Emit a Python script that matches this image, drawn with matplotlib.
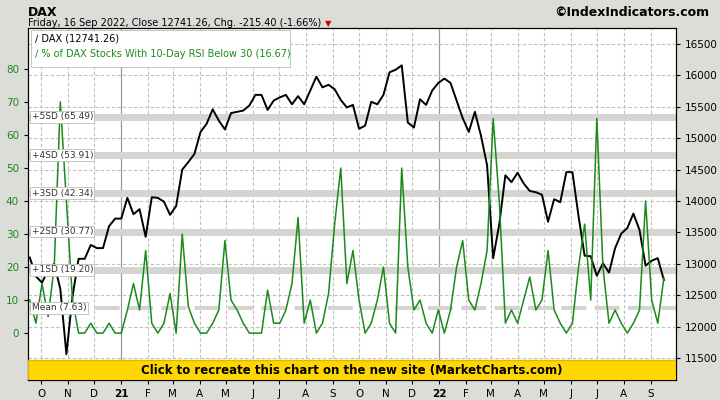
import numpy as np
import pandas as pd
import matplotlib.pyplot as plt
from matplotlib.patches import Rectangle

# weekly closes, Fridays from 2020-09-18 to 2022-09-16
dax = [13100, 12800, 12700, 12900, 13000, 12600, 11560, 12480, 13080, 13080, 13300, 13250, 13250, 13600, 13720,
       13720, 14050, 13790, 13870, 13430, 14060, 14050, 13990, 13780, 13920, 14500, 14620, 14750, 15100, 15230,
       15460, 15280, 15140, 15400, 15420, 15440, 15520, 15690, 15690, 15450, 15600, 15650, 15690, 15540, 15670,
       15540, 15760, 15980, 15810, 15850, 15780, 15610, 15490, 15530, 15150, 15200, 15580, 15540, 15690, 16050,
       16090, 16160, 15250, 15170, 15620, 15530, 15760, 15880,
       15950, 15880, 15600, 15320, 15100, 15420, 15040, 14570, 13090, 13630, 14410, 14300, 14450, 14280, 14160,
       14140, 14100, 13670, 14030, 13980, 14460, 14460, 13760, 13130, 13120, 12810, 13010, 12860, 13250, 13480,
       13570, 13800, 13540, 12970, 13050, 13090, 12741.26]
rsi_pct = [10, 3, 15, 5, 20, 70, 40, 10, 0, 0, 3, 0, 0, 3, 0,
           0, 7, 15, 7, 25, 3, 0, 3, 12, 0, 30, 8, 3, 0, 0, 3, 7, 28, 10, 7, 3, 0, 0, 0, 13, 3, 3, 7, 15, 35,
           3, 10, 0, 3, 12, 33, 50, 15, 25, 10, 0, 3, 10, 20, 3, 0, 50, 20, 7, 10, 3, 0, 7,
           0, 7, 20, 28, 10, 7, 15, 25, 65, 40, 3, 7, 3, 10, 17, 7, 10, 25, 7, 3, 0, 3, 20, 33, 10, 65, 20,
           3, 7, 3, 0, 3, 7, 40, 10, 3, 16.67]
dates = pd.date_range("2020-09-18", "2022-09-16", freq="W-FRI")

sd_levels = [65.49, 53.91, 42.34, 30.77, 19.20]
sd_labels = ["+5SD (65.49)", "+4SD (53.91)", "+3SD (42.34)", "+2SD (30.77)", "+1SD (19.20)"]
mean_level = 7.63

month_ticks = pd.date_range("2020-10-01", "2022-09-01", freq="MS")
month_labels = ["21" if d.month == 1 and d.year == 2021 else "22" if d.month == 1 else d.strftime("%b")[0]
                for d in month_ticks]

GREEN = "#1a8a1a"

fig = plt.figure(figsize=(7.2, 4), dpi=100, facecolor="#dcdcd8")
ax2 = fig.add_axes([0.039, 0.05, 0.9, 0.88])
ax2.set_facecolor("white")
ax = ax2.twinx()
ax.yaxis.tick_left()
ax2.yaxis.tick_right()

ax.set_xlim(pd.Timestamp("2020-09-16"), pd.Timestamp("2022-09-30"))
ax.set_ylim(-14.2, 92.4)
ax2.set_ylim(11150, 16755)

# grid
for d in month_ticks:
    if d.month == 1:
        ax2.axvline(d, color="#999999", lw=0.9, zorder=0)
    else:
        ax2.axvline(d, color="#c0c0c0", lw=0.8, ls=(0, (3, 2)), zorder=0)
for v in range(11500, 16501, 500):
    ax2.axhline(v, color="#c0c0c0", lw=0.8, ls=(0, (3, 2)), zorder=0)

# SD bands (drawn on the DAX axes so they sit under both lines)
def to_dax(v):
    return 11150 + (v + 14.2) / 106.6 * (16755 - 11150)

for lvl, lab in zip(sd_levels, sd_labels):
    ax2.axhline(to_dax(lvl), color="#d4d4d0", lw=5, zorder=1)
    ax.text(pd.Timestamp("2020-09-20"), lvl, lab, fontsize=6.5, va="center", color="#333333", zorder=6,
            bbox=dict(boxstyle="square,pad=0.15", fc="white", ec="#bbbbbb", lw=0.6))
ax2.axhline(to_dax(mean_level), color="#d4d4d0", lw=3, ls=(0, (6, 2)), zorder=1)
ax.text(pd.Timestamp("2020-09-20"), mean_level, "Mean (7.63)", fontsize=6.5, va="center", color="#333333",
        zorder=6, bbox=dict(boxstyle="square,pad=0.15", fc="white", ec="#bbbbbb", lw=0.6))

ax.plot(dates, rsi_pct, color=GREEN, lw=1.1, zorder=3)
ax2.plot(dates, dax, color="black", lw=1.4, zorder=4)

ax.set_yticks(range(0, 81, 10))
ax.tick_params(axis="y", labelsize=7.5, labelcolor=GREEN, length=3)
ax2.set_yticks(range(11500, 16501, 500))
ax2.tick_params(axis="y", labelsize=7.5, length=3)
ax.set_xticks(month_ticks)
ax2.set_xticks(month_ticks)
ax2.set_xticklabels(month_labels, fontsize=7.5)
for t, lab in zip(ax2.get_xticklabels(), month_labels):
    if lab in ("21", "22"):
        t.set_fontweight("bold")
ax2.tick_params(axis="x", length=3)

# banner
ax.add_patch(Rectangle((0, 0), 1, 0.057, transform=ax.transAxes, fc="#ffd700", ec="#e0b800", zorder=7))
ax.text(0.5, 0.028, "Click to recreate this chart on the new site (MarketCharts.com)", transform=ax.transAxes,
        ha="center", va="center", fontsize=8.5, fontweight="bold", zorder=8)

# legend box
ax.add_patch(Rectangle((0.004, 0.89), 0.4, 0.105, transform=ax.transAxes, fc="white", ec="#bbbbbb",
                       lw=0.6, zorder=8))
ax.text(0.01, 0.985, "\u2215 DAX (12741.26)", transform=ax.transAxes, fontsize=7, va="top", zorder=9)
ax.text(0.01, 0.94, "\u2215 % of DAX Stocks With 10-Day RSI Below 30 (16.67)", transform=ax.transAxes,
        fontsize=7, va="top", color=GREEN, zorder=9)

# header
fig.text(0.039, 0.985, "DAX", fontsize=9, fontweight="bold", va="top")
fig.text(0.039, 0.955, "Friday, 16 Sep 2022, Close 12741.26, Chg. -215.40 (-1.66%)", fontsize=7, va="top")
fig.text(0.452, 0.952, "\u25bc", fontsize=6, va="top", color="#dd0000")
fig.text(0.985, 0.985, "\u00a9IndexIndicators.com", fontsize=9, fontweight="bold", va="top", ha="right")

fig.savefig("out.png", dpi=100, facecolor=fig.get_facecolor())
